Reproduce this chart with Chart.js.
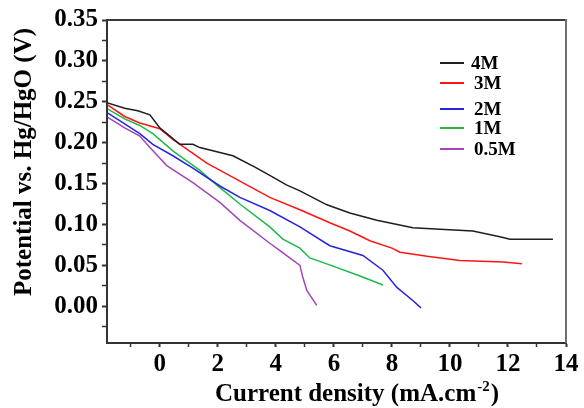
<!DOCTYPE html>
<html>
<head>
<meta charset="utf-8">
<script src="https://cdn.jsdelivr.net/npm/chart.js@4.4.0/dist/chart.umd.min.js"></script>
<style>
  html,body{margin:0;padding:0;background:#fff;}
</style>
</head>
<body>
<canvas id="chart" width="584" height="408"></canvas>
<script>
// series: current density (mA/cm2) vs potential (V)
const seriesLabels = ['4M', '3M', '2M', '1M', '0.5M'];
const seriesColors = ['#1e1e1e', '#ff1414', '#2424e0', '#1fb848', '#a445b8'];

const x4M = [-1.83, -1.21, -0.76, -0.34, 0.0, 0.69, 1.14, 1.38, 2.52, 3.28, 3.79, 4.38, 4.83, 5.76, 6.55, 7.48, 8.72, 9.66, 10.79, 11.72, 12.07, 13.55];
const y4M = [0.249, 0.242, 0.239, 0.234, 0.218, 0.198, 0.198, 0.194, 0.184, 0.170, 0.160, 0.148, 0.141, 0.124, 0.114, 0.105, 0.096, 0.094, 0.092, 0.085, 0.082, 0.082];

const x3M = [-1.79, -1.21, -0.69, 0.0, 0.45, 1.62, 2.76, 3.79, 4.83, 5.86, 6.55, 7.24, 8.0, 8.28, 9.21, 10.34, 11.83, 12.48];
const y3M = [0.246, 0.232, 0.224, 0.217, 0.204, 0.175, 0.153, 0.133, 0.118, 0.102, 0.092, 0.080, 0.071, 0.066, 0.061, 0.056, 0.054, 0.052];

const x2M = [-1.79, -1.21, -0.69, -0.24, 0.45, 1.14, 2.07, 2.76, 3.79, 4.83, 5.86, 7.0, 7.69, 8.17, 8.72, 9.0];
const y2M = [0.236, 0.223, 0.211, 0.198, 0.184, 0.169, 0.147, 0.133, 0.117, 0.097, 0.074, 0.062, 0.044, 0.023, 0.007, -0.002];

const x1M = [-1.79, -1.21, -0.69, -0.24, 0.45, 1.38, 2.07, 2.76, 3.79, 4.24, 4.83, 5.17, 5.97, 6.90, 7.69];
const y1M = [0.241, 0.229, 0.221, 0.211, 0.190, 0.166, 0.145, 0.125, 0.097, 0.082, 0.071, 0.059, 0.049, 0.037, 0.026];

const x05M = [-1.79, -1.21, -0.69, -0.34, 0.24, 1.14, 2.07, 2.76, 3.79, 4.14, 4.83, 4.93, 5.07, 5.41];
const y05M = [0.231, 0.218, 0.208, 0.194, 0.172, 0.151, 0.127, 0.105, 0.077, 0.068, 0.050, 0.035, 0.019, 0.001];

const seriesX = [x4M, x3M, x2M, x1M, x05M];
const seriesY = [y4M, y3M, y2M, y1M, y05M];

const xTitle = 'Current density (mA.cm';
const xTitleSup = '-2';
const yTitle = 'Potential vs. Hg/HgO (V)';

const SERIF = "'Times New Roman', 'Liberation Serif', serif";
const legendRowsY = [63, 83, 109, 128, 149];

const decor = {
  id: 'decor',
  afterDraw(chart){
    const {ctx, chartArea:a} = chart;
    ctx.save();
    // top + right frame
    ctx.lineWidth = 2;
    ctx.strokeStyle = '#3a3a3a';
    ctx.beginPath(); ctx.moveTo(a.left, a.top); ctx.lineTo(a.right, a.top); ctx.stroke();
    ctx.strokeStyle = '#707070';
    ctx.beginPath(); ctx.moveTo(a.right, a.top - 1); ctx.lineTo(a.right, a.bottom); ctx.stroke();

    ctx.fillStyle = '#000';
    // legend
    chart.data.datasets.forEach((ds, i)=>{
      const y = legendRowsY[i];
      ctx.strokeStyle = ds.borderColor; ctx.lineWidth = 2;
      ctx.beginPath(); ctx.moveTo(440, y); ctx.lineTo(464, y); ctx.stroke();
      ctx.font = `bold 19px ${SERIF}`;
      ctx.textAlign = 'left'; ctx.textBaseline = 'middle';
      ctx.fillText(ds.label, i === 0 ? 471 : 474, y + 1);
    });

    // x title with superscript
    ctx.textBaseline = 'alphabetic';
    ctx.font = `bold 25px ${SERIF}`;
    const w1 = ctx.measureText(xTitle).width;
    const w3 = ctx.measureText(')').width;
    ctx.font = `bold 15px ${SERIF}`;
    const w2 = ctx.measureText(xTitleSup).width;
    let x0 = 356 - (w1 + w2 + w3) / 2;
    ctx.font = `bold 25px ${SERIF}`;
    ctx.fillText(xTitle, x0, 401);
    ctx.font = `bold 15px ${SERIF}`;
    ctx.fillText(xTitleSup, x0 + w1 + 1, 391);
    ctx.font = `bold 25px ${SERIF}`;
    ctx.fillText(')', x0 + w1 + w2 + 2, 401);

    // y title
    ctx.translate(31, 162);
    ctx.rotate(-Math.PI / 2);
    ctx.textAlign = 'center';
    ctx.fillText(yTitle, 0, 0);
    ctx.restore();
  }
};

const datasets = seriesLabels.map((lab, i)=>({
  label: lab,
  data: seriesX[i].map((x, k)=>({x, y: seriesY[i][k]})),
  borderColor: seriesColors[i],
  backgroundColor: seriesColors[i],
  borderWidth: 1.5,
  pointRadius: 0,
  showLine: true,
  tension: 0
}));

const tickFont = {family: SERIF, size: 25, weight: 'bold'};

new Chart(document.getElementById('chart').getContext('2d'), {
  type: 'scatter',
  data: {datasets},
  options: {
    responsive: false,
    animation: false,
    devicePixelRatio: 1,
    layout: {padding: {top: 20, right: 18, left: 0, bottom: 0}},
    plugins: {legend: {display: false}, tooltip: {enabled: false}},
    scales: {
      x: {
        type: 'linear', min: -1.82, max: 14,
        afterFit: s => { s.height = 65; },
        border: {color: '#333', width: 2},
        grid: {drawOnChartArea: false, tickLength: 4, tickColor: '#333', tickWidth: c => (c.tick && c.tick.value % 2 === 0) ? 2 : 1.5},
        ticks: {
          stepSize: 1, includeBounds: false, autoSkip: false, maxRotation: 0, padding: 3,
          color: '#000', font: tickFont,
          callback: v => (v % 2 === 0 ? String(v) : '')
        }
      },
      y: {
        type: 'linear', min: -0.045, max: 0.35,
        afterFit: s => { s.width = 107; },
        border: {color: '#333', width: 2},
        grid: {drawOnChartArea: false, tickLength: 5, tickColor: '#333', tickWidth: c => (c.tick && Math.round(c.tick.value * 1000) % 50 === 0) ? 2 : 1.5},
        ticks: {
          stepSize: 0.025, includeBounds: false, autoSkip: false, padding: 4,
          color: '#000', font: tickFont,
          callback: v => (Math.round(v * 1000) % 50 === 0 ? v.toFixed(2) : '')
        }
      }
    }
  },
  plugins: [decor]
});
</script>
</body>
</html>
